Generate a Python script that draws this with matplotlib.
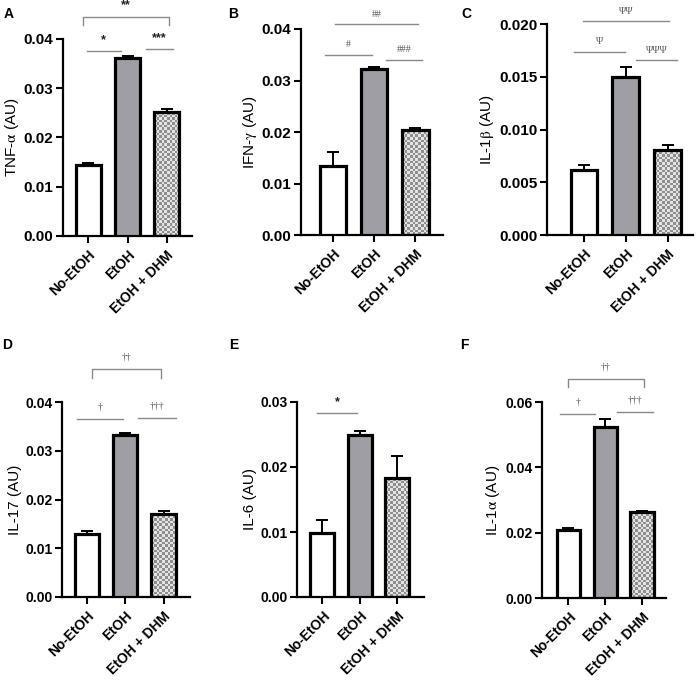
import numpy as np
import matplotlib.pyplot as plt
from matplotlib.colors import ListedColormap
from matplotlib.ticker import FormatStrFormatter

plt.rcParams['font.family'] = ['Liberation Sans', 'DejaVu Sans']
plt.rcParams['mathtext.fontset'] = 'stix'

groups = ['No-EtOH', 'EtOH', 'EtOH + DHM']

tnf_mean = [0.0145, 0.0361, 0.0251]
tnf_err = [0.0004, 0.0004, 0.0006]
ifn_mean = [0.0134, 0.0322, 0.0204]
ifn_err = [0.0028, 0.0005, 0.0004]
il1b_mean = [0.0062, 0.0150, 0.0081]
il1b_err = [0.0004, 0.0009, 0.0004]
il17_mean = [0.0130, 0.0332, 0.0171]
il17_err = [0.0005, 0.0004, 0.0005]
il6_mean = [0.0099, 0.0249, 0.0183]
il6_err = [0.0019, 0.0007, 0.0034]
il1a_mean = [0.0208, 0.0524, 0.0264]
il1a_err = [0.0007, 0.0023, 0.0003]

# significance marks: (text, x0, x1, line y, bracket drop or None, text y)
tnf_sig = [('**', -0.14, 2.06, 0.0445, 0.0017, 0.0468),
           ('*', -0.04, 0.83, 0.0376, None, 0.0398),
           ('***', 1.47, 2.17, 0.0380, None, 0.0402)]
ifn_sig = [('##', 0.05, 2.07, 0.0410, None, 0.0428),
           ('#', -0.20, 0.95, 0.0350, None, 0.0370),
           ('###', 1.29, 2.17, 0.0340, None, 0.0360)]
il1b_sig = [('ΨΨ', -0.02, 2.04, 0.0203, None, 0.0212),
            ('Ψ', -0.24, 0.98, 0.01735, None, 0.0183),
            ('ΨΨΨ', 1.25, 2.23, 0.01659, None, 0.0175)]
il17_sig = [('††', 0.13, 1.93, 0.0468, 0.0018, 0.0492),
            ('†', -0.26, 0.94, 0.0365, None, 0.0390),
            ('†††', 1.33, 2.32, 0.0367, None, 0.0392)]
il6_sig = [('*', -0.15, 0.93, 0.0283, None, 0.0299)]
il1a_sig = [('††', 0.0, 2.04, 0.0670, 0.0024, 0.0707),
            ('†', -0.23, 0.73, 0.0563, None, 0.0600),
            ('†††', 1.33, 2.31, 0.0569, None, 0.0606)]

W, H = 700, 688
fig = plt.figure(figsize=(W / 100, H / 100), dpi=100)


def add_panel(rect_px, xlim, mean, err, sig, ylabel, ymax, ystep, fmt, letter, letter_xy, tsize):
    l, t, r, b = rect_px
    ax = fig.add_axes([l / W, 1 - b / H, (r - l) / W, (b - t) / H])
    x = np.arange(len(groups))
    ax.set_xlim(*xlim)
    ax.set_ylim(0, ymax)
    bars = ax.bar(x, mean, width=0.64, color=['white', '#9e9ea4', 'none'],
                  edgecolor='black', linewidth=2.3, zorder=3)
    ax.errorbar(x, mean, yerr=[np.zeros(len(err)), err], fmt='none', ecolor='black',
                elinewidth=1.4, capsize=4, capthick=1.4, zorder=2)

    # checkerboard fill for the last bar, clipped to the bar itself
    bar = bars[-1]
    x0, w, h = bar.get_x(), bar.get_width(), bar.get_height()
    p0 = ax.transData.transform((x0, 0))
    p1 = ax.transData.transform((x0 + w, h))
    cell = 2.6
    nc = max(1, int(round((p1[0] - p0[0]) / cell)))
    nr = max(1, int(round((p1[1] - p0[1]) / cell)))
    board = np.indices((nr, nc)).sum(axis=0) % 2
    im = ax.imshow(board, cmap=ListedColormap(['#e4e4e4', '#8e8e8e']),
                   extent=(x0, x0 + w, 0, h), aspect='auto',
                   interpolation='nearest', zorder=1)
    im.set_clip_path(bar)
    ax.set_xlim(*xlim)
    ax.set_ylim(0, ymax)

    for s in ['top', 'right']:
        ax.spines[s].set_visible(False)
    for s in ['left', 'bottom']:
        ax.spines[s].set_linewidth(1.6)
    ax.set_yticks(np.arange(0, ymax + ystep / 2, ystep))
    ax.yaxis.set_major_formatter(FormatStrFormatter(fmt))
    ax.set_xticks(x)
    ax.set_xticklabels(groups, rotation=45, ha='right', rotation_mode='anchor',
                       fontsize=10, fontweight='bold')
    ax.tick_params(axis='both', length=5, width=1.5)
    ax.tick_params(axis='y', labelsize=tsize, pad=2)
    for lab in ax.get_yticklabels():
        lab.set_fontweight('bold')
    ax.set_ylabel(ylabel, fontsize=11, labelpad=2)

    for text, a, c, y, drop, ty in sig:
        if drop is None:
            ax.plot([a, c], [y, y], color='#8a8a8a', lw=1, clip_on=False)
        else:
            ax.plot([a, a, c, c], [y - drop, y, y, y - drop], color='#8a8a8a',
                    lw=1, clip_on=False)
        if '*' in text:
            ax.text((a + c) / 2, ty, text, ha='center', va='center',
                    fontsize=9, fontweight='bold', color='#222222')
        else:
            ax.text((a + c) / 2, ty, text, ha='center', va='center',
                    fontsize=7, family=['Liberation Serif', 'DejaVu Serif'],
                    color='#555555')

    fig.text(letter_xy[0] / W, 1 - letter_xy[1] / H, letter, fontsize=10,
             fontweight='bold', ha='left', va='top')
    return ax


add_panel((63, 39, 192, 236), (-0.65, 2.65), tnf_mean, tnf_err, tnf_sig,
          r'TNF-$\mathrm{\alpha}$ (AU)', 0.04, 0.01, '%.2f', 'A', (4, 7), 11)
add_panel((301, 29, 443, 235), (-0.78, 2.67), ifn_mean, ifn_err, ifn_sig,
          r'IFN-$\mathrm{\gamma}$ (AU)', 0.04, 0.01, '%.2f', 'B', (228, 7), 11)
add_panel((547, 24, 693, 235), (-0.89, 2.61), il1b_mean, il1b_err, il1b_sig,
          r'IL-1$\mathrm{\beta}$ (AU)', 0.02, 0.005, '%.3f', 'C', (461, 7), 11)
add_panel((62, 402, 190, 597), (-0.65, 2.69), il17_mean, il17_err, il17_sig,
          'IL-17 (AU)', 0.04, 0.01, '%.2f', 'D', (2, 338), 10)
add_panel((297, 402, 424, 597), (-0.68, 2.71), il6_mean, il6_err, il6_sig,
          'IL-6 (AU)', 0.03, 0.01, '%.2f', 'E', (229, 338), 10)
add_panel((542, 402, 666, 598), (-0.72, 2.65), il1a_mean, il1a_err, il1a_sig,
          r'IL-1$\mathrm{\alpha}$ (AU)', 0.06, 0.02, '%.2f', 'F', (460, 338), 10)

fig.savefig('out.png', dpi=100)
